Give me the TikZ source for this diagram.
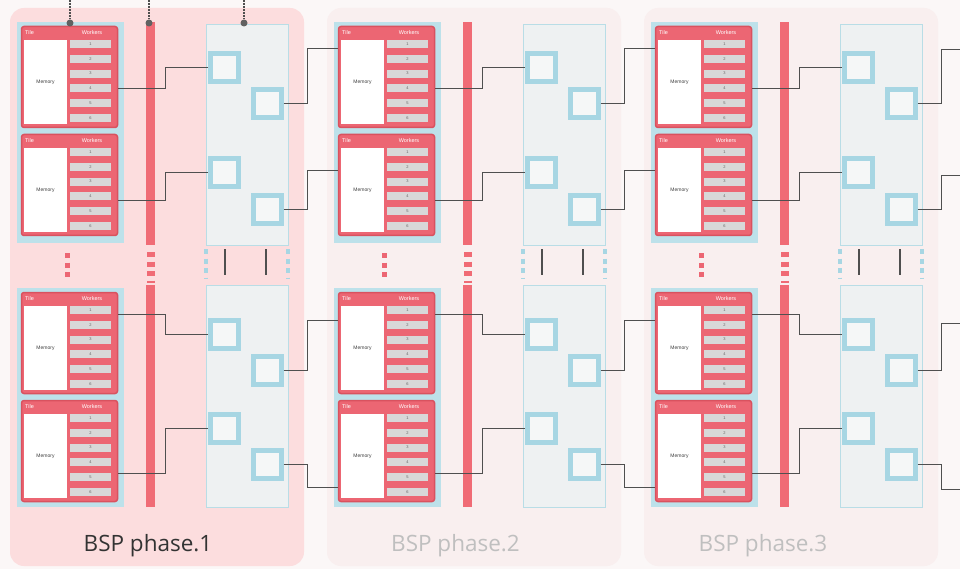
\documentclass[tikz,border=0pt]{standalone}
\usepackage{fontspec}
\setmainfont{Liberation Sans}
\newfontfamily\phasefont{Open Sans}
\usetikzlibrary{calc}
\definecolor{PageBg}{HTML}{FBF7F7}
\definecolor{PhaseOn}{HTML}{FCDDDE}
\definecolor{PhaseOff}{HTML}{F9EFEF}
\definecolor{TileRed}{HTML}{EC6673}
\definecolor{TileEdge}{HTML}{D9525F}
\definecolor{BarRed}{HTML}{F06B75}
\definecolor{TileBlue}{HTML}{BDE1EA}
\definecolor{XchFill}{HTML}{EEF1F2}
\definecolor{XchEdge}{HTML}{B9DDE6}
\definecolor{SqBlue}{HTML}{A7D6E3}
\definecolor{SlotGray}{HTML}{D8D8D8}
\definecolor{Wire}{HTML}{4F4F4F}
% one tile: name, top edge
\newcommand{\TileBox}[2]{%
  \node[tile] (#1) at (69.5,#2+51) {};
  \node[memcell] (#1m) at (45.5,#2+56) {Memory};
  \node[hdr,anchor=west] (#1t) at (25,#2+7) {Tile};
  \node[hdr] (#1w) at (92,#2+7) {Workers};
  \foreach \k in {1,...,6}
    \node[slot] (#1\k) at (90.5,{#2+18+14.8*(\k-1)}) {\k};
}
% one BSP phase: number, x shift, panel colour, label colour, label x
\newcommand{\BSPPhase}[5]{%
\begin{scope}[xshift=#2pt]
  \fill[#3,rounded corners=14pt] (10,8) rectangle (304,566);
  \fill[TileBlue] (17,22) rectangle (124,243);
  \fill[TileBlue] (17,288) rectangle (124,507);
  \TileBox{t#1a}{26}
  \TileBox{t#1b}{134}
  \TileBox{t#1c}{292}
  \TileBox{t#1d}{400}
  \draw[gapdots,TileRed] (67,253) -- (67,279);
  % sync bar
  \fill[BarRed] (146,22) rectangle (155,245);
  \fill[BarRed] (146,285) rectangle (155,507);
  \draw[gapdots,BarRed,line width=8pt] (150.5,252) -- (150.5,283);
  % exchange
  \draw[xch] (206,24) rectangle (288,245);
  \draw[xch] (206,285) rectangle (288,507);
  \draw[gapdots,SqBlue,line width=4pt] (206,249) -- (206,279);
  \draw[gapdots,SqBlue,line width=4pt] (288,249) -- (288,279);
  \draw[Wire,line width=1.2pt] (225,249) -- (225,275);
  \draw[Wire,line width=1.2pt] (266,249) -- (266,275);
  \foreach \n/\x/\y in {a/224.5/68,b/267/103.5,c/224.5/172.5,d/267/209.5,
                        e/224.5/334,f/267/370,g/224.5/428,h/267/464}
    \node[xsq] (q#1\n) at (\x,\y) {};
  \coordinate (m#1) at (165,0);
  \coordinate (r#1) at (307,0);
  \draw[wire] (t#1a.east |- t#1a4) -| (m#1 |- q#1a) -- (q#1a.west);
  \draw[wire] (t#1b.east |- t#1b4.south) -| (m#1 |- q#1c) -- (q#1c.west);
  \draw[wire] (t#1c.east |- t#1c1.south) -| (m#1 |- q#1e) -- (q#1e.west);
  \draw[wire] (t#1d.east |- t#1d5.north) -| (m#1 |- q#1g) -- (q#1g.west);
  \node[phaselbl,text=#4] (lbl#1) at (#5,546) {BSP phase.#1};
\end{scope}
}

\begin{document}
\begin{tikzpicture}[x=1pt,y=-1pt,
  tile/.style={draw=TileEdge,fill=TileRed,line width=1.5pt,rounded corners=2.5pt,
    minimum width=96pt,minimum height=101pt,inner sep=0pt},
  memcell/.style={fill=white,minimum width=43pt,minimum height=84pt,inner sep=0pt,
    font=\fontsize{5}{6}\selectfont,text=black!75},
  hdr/.style={text=white,font=\fontsize{5.5}{6}\selectfont,inner sep=0pt},
  slot/.style={fill=SlotGray,minimum width=41pt,minimum height=8pt,inner sep=0pt,
    font=\fontsize{4}{4}\selectfont,text=black!60},
  xch/.style={draw=XchEdge,fill=XchFill,line width=0.8pt},
  xsq/.style={draw=SqBlue,fill=XchFill!60!white,line width=5pt,minimum size=28pt,inner sep=0pt},
  wire/.style={draw=Wire,line width=1pt},
  gapdots/.style={line width=5pt,dash pattern=on 5pt off 4.5pt},
  callout/.style={draw=Wire,line width=1.4pt,dash pattern=on 1.6pt off 1.4pt},
  tipdot/.style={circle,fill=Wire!90,minimum size=7pt,inner sep=0pt},
  phaselbl/.style={font=\phasefont\fontsize{22.5}{26}\selectfont,inner sep=0pt}]
\fill[PageBg] (0,0) rectangle (960,569);
\useasboundingbox (0,0) rectangle (960,569);
\BSPPhase{1}{0}{PhaseOn}{black!80}{148}
\BSPPhase{2}{317}{PhaseOff}{black!25}{138.5}
\BSPPhase{3}{634}{PhaseOff}{black!25}{129}
% links from one phase to the next
\foreach \p/\n in {1/2,2/3} {
  \draw[wire] (q\p b.east) -| (r\p |- t\n a1.south) -- (t\n a.west |- t\n a1.south);
  \draw[wire] (q\p d.east) -| (r\p |- t\n b2.south) -- (t\n b.west |- t\n b2.south);
  \draw[wire] (q\p f.east) -| (r\p |- t\n c2.north) -- (t\n c.west |- t\n c2.north);
  \draw[wire] (q\p h.east) -| (r\p |- t\n d6.north) -- (t\n d.west |- t\n d6.north);
}
\coordinate (out1) at (960,50);
\coordinate (out2) at (960,176);
\coordinate (out3) at (960,323);
\coordinate (out4) at (960,489);
\draw[wire] (q3b.east) -| (r3 |- out1) -- (out1);
\draw[wire] (q3d.east) -| (r3 |- out2) -- (out2);
\draw[wire] (q3f.east) -| (r3 |- out3) -- (out3);
\draw[wire] (q3h.east) -| (r3 |- out4) -- (out4);
% callouts from above
\foreach \i/\x in {1/70,2/149,3/244} {
  \node[tipdot] (k\i) at (\x,23) {};
  \coordinate (k\i top) at (\x,0);
  \draw[callout] (k\i top) -- (k\i);
}
\end{tikzpicture}
\end{document}
